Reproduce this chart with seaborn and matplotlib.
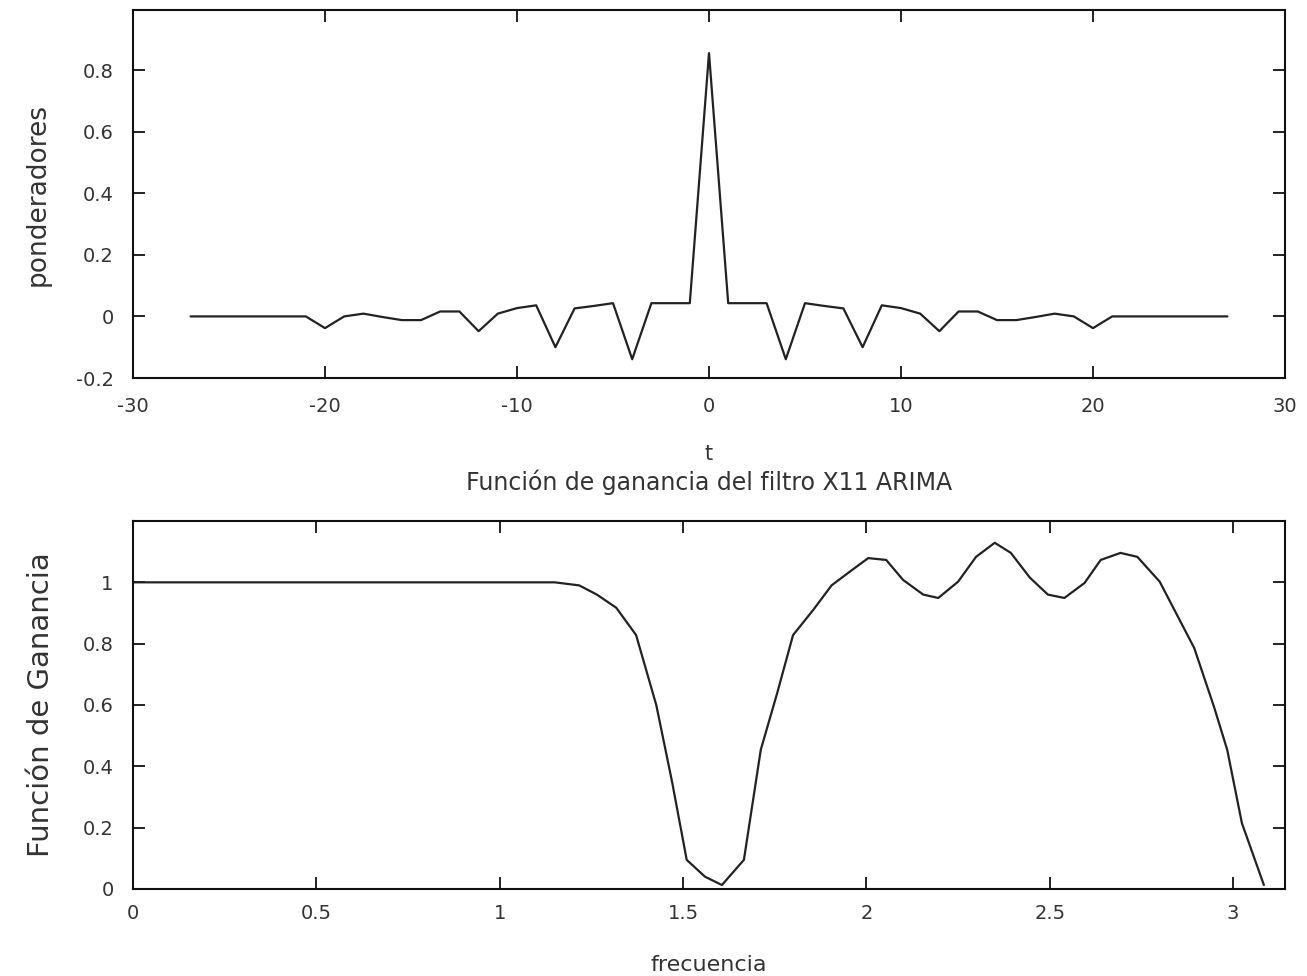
import numpy as np
import pandas as pd
import seaborn as sns
import matplotlib
matplotlib.use("Agg")
import matplotlib.pyplot as plt

# ---- Top panel: filter weights (ponderadores) ----
t_values = list(range(-27, 28))
weights_pos = [0.855, 0.043, 0.043, 0.043, -0.139, 0.043, 0.034, 0.026, -0.100,
               0.036, 0.027, 0.009, -0.048, 0.016, 0.016, -0.012, -0.012, -0.002,
               0.009, 0.0, -0.038, 0.0, 0.0, 0.0, 0.0, 0.0, 0.0, 0.0]
weights = weights_pos[:0:-1] + weights_pos  # symmetric weights t=-27..27

# ---- Bottom panel: gain function ----
frecuencia = [0.0, 1.15, 1.217, 1.265, 1.318, 1.372, 1.427, 1.47, 1.51, 1.56,
              1.606, 1.666, 1.712, 1.757, 1.80, 1.855, 1.905, 1.955, 2.005, 2.054,
              2.10, 2.155, 2.196, 2.25, 2.299, 2.35, 2.394, 2.446, 2.495, 2.54,
              2.595, 2.639, 2.693, 2.739, 2.80, 2.85, 2.894, 2.948, 2.984, 3.024, 3.084]
ganancia = [1.0, 1.0, 0.99, 0.96, 0.917, 0.828, 0.60, 0.35, 0.095, 0.04,
            0.013, 0.095, 0.454, 0.64, 0.828, 0.91, 0.99, 1.035, 1.079, 1.073,
            1.008, 0.96, 0.949, 1.002, 1.083, 1.129, 1.096, 1.015, 0.96, 0.949,
            0.998, 1.073, 1.096, 1.083, 1.002, 0.887, 0.786, 0.594, 0.454, 0.215, 0.013]

top_xticks = [-30, -20, -10, 0, 10, 20, 30]
top_yticks = [-0.2, 0, 0.2, 0.4, 0.6, 0.8]
top_yticklabels = ["-0.2", "0", "0.2", "0.4", "0.6", "0.8"]
bot_xticks = [0, 0.5, 1, 1.5, 2, 2.5, 3]
bot_xticklabels = ["0", "0.5", "1", "1.5", "2", "2.5", "3"]
bot_yticks = [0, 0.2, 0.4, 0.6, 0.8, 1]
bot_yticklabels = ["0", "0.2", "0.4", "0.6", "0.8", "1"]

sns.set_theme(style="ticks")
plt.rcParams["font.family"] = ["DejaVu Sans"]
plt.rcParams.update({
    "xtick.direction": "in", "ytick.direction": "in",
    "xtick.top": True, "ytick.right": True,
    "xtick.major.size": 8.5, "ytick.major.size": 8.5,
    "xtick.major.width": 1.3, "ytick.major.width": 1.3,
    "axes.linewidth": 1.5, "axes.edgecolor": "#111111",
    "xtick.color": "#111111", "ytick.color": "#111111",
    "xtick.labelcolor": "#333333", "ytick.labelcolor": "#333333",
})

W, H = 1307, 976
fig = plt.figure(figsize=(W / 100, H / 100), dpi=100)
fig.patch.set_facecolor("white")

def axes_px(x0, y0, x1, y1):
    return fig.add_axes([x0 / W, 1 - y1 / H, (x1 - x0) / W, (y1 - y0) / H])

ax1 = axes_px(133, 10, 1285, 378)
ax2 = axes_px(133, 521, 1285, 889)

df1 = pd.DataFrame({"t": t_values, "w": weights})
sns.lineplot(data=df1, x="t", y="w", ax=ax1, color="#222222", linewidth=1.6)
ax1.set_xlim(-30, 30)
ax1.set_ylim(-0.2, 0.995)
ax1.set_xticks(top_xticks)
ax1.set_xticklabels([str(v) for v in top_xticks])
ax1.set_yticks(top_yticks)
ax1.set_yticklabels(top_yticklabels)
ax1.tick_params(axis="x", pad=14, labelsize=14)
ax1.tick_params(axis="y", pad=14, labelsize=14)
ax1.set_xlabel("t", fontsize=15, color="#333333", labelpad=20)
ax1.set_ylabel("ponderadores", fontsize=19, color="#333333", labelpad=18)

df2 = pd.DataFrame({"f": frecuencia, "g": ganancia})
sns.lineplot(data=df2, x="f", y="g", ax=ax2, color="#222222", linewidth=1.6)
ax2.set_xlim(0, np.pi)
ax2.set_ylim(0, 1.2)
ax2.set_xticks(bot_xticks)
ax2.set_xticklabels(bot_xticklabels)
ax2.set_yticks(bot_yticks)
ax2.set_yticklabels(bot_yticklabels)
ax2.tick_params(axis="x", pad=11, labelsize=14)
ax2.tick_params(axis="y", pad=14, labelsize=14)
ax2.set_xlabel("frecuencia", fontsize=16, color="#333333", labelpad=23)
ax2.set_ylabel("Función de Ganancia", fontsize=21, color="#333333", labelpad=20)
ax2.set_title("Función de ganancia del filtro X11 ARIMA", fontsize=17,
              color="#333333", pad=22)

for ax in (ax1, ax2):
    for s in ax.spines.values():
        s.set_visible(True)

fig.savefig("out.png", dpi=100, facecolor="white")
